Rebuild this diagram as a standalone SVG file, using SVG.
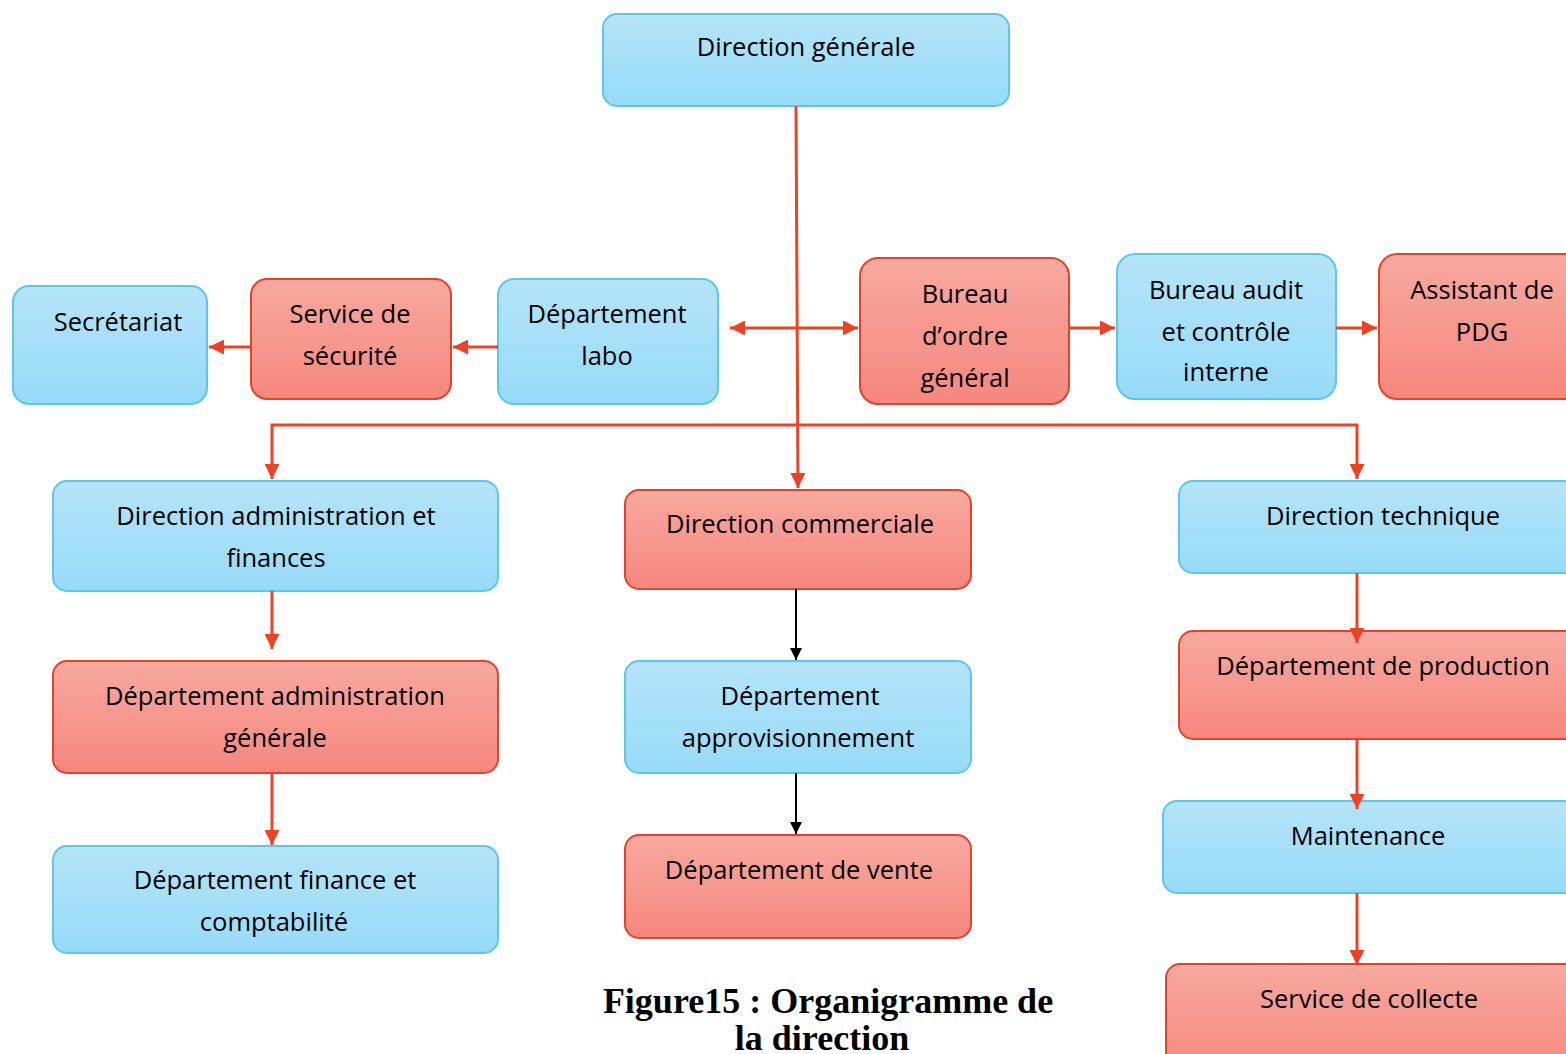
<svg xmlns="http://www.w3.org/2000/svg" width="1566" height="1054" viewBox="0 0 1566 1054">
<defs>
<linearGradient id="gb" x1="0" y1="0" x2="0" y2="1"><stop offset="0" stop-color="#b5e4f8"/><stop offset="1" stop-color="#97dbf8"/></linearGradient>
<linearGradient id="gr" x1="0" y1="0" x2="0" y2="1"><stop offset="0" stop-color="#f8a9a0"/><stop offset="1" stop-color="#f6877e"/></linearGradient>
<marker id="ar" viewBox="0 0 10 10" refX="10" refY="5" markerWidth="5" markerHeight="5" orient="auto-start-reverse" markerUnits="strokeWidth"><path d="M0,0 L10,5 L0,10 z" fill="#ee4224"/></marker>
<marker id="ab" viewBox="0 0 10 10" refX="10" refY="5" markerWidth="6" markerHeight="6" orient="auto" markerUnits="strokeWidth"><path d="M0,0 L10,5 L0,10 z" fill="#000"/></marker>
<style>
.b{fill:url(#gb);stroke:#5ec5ee;stroke-width:2}
.r{fill:url(#gr);stroke:#e8412a;stroke-width:2}
.t{font-family:"Open Sans","Noto Sans",sans-serif;font-size:25.5px;fill:#000;text-anchor:middle}
.c{stroke:#ee4224;stroke-width:3;fill:none}
.k{stroke:#000;stroke-width:2;fill:none}
.cap{font-family:"Liberation Serif",serif;font-weight:bold;font-size:36px;text-anchor:middle;fill:#000}
</style>
</defs>
<g id="n-dg"><rect class="b" x="603" y="14" width="406" height="92" rx="14"/><text class="t" x="806" y="56">Direction générale</text></g>
<g id="n-sec"><rect class="b" x="13" y="286" width="194" height="118" rx="16"/><text class="t" x="118" y="331">Secrétariat</text></g>
<g id="n-ss"><rect class="r" x="251" y="279" width="200" height="120" rx="16"/><text class="t" x="350" y="323">Service de</text><text class="t" x="350" y="365">sécurité</text></g>
<g id="n-labo"><rect class="b" x="498" y="279" width="220" height="125" rx="16"/><text class="t" x="607" y="323">Département</text><text class="t" x="607" y="365">labo</text></g>
<g id="n-bog"><rect class="r" x="860" y="258" width="209" height="146" rx="18"/><text class="t" x="965" y="303">Bureau</text><text class="t" x="965" y="345">d’ordre</text><text class="t" x="965" y="387">général</text></g>
<g id="n-baci"><rect class="b" x="1117" y="254" width="219" height="145" rx="18"/><text class="t" x="1226" y="299">Bureau audit</text><text class="t" x="1226" y="341">et contrôle</text><text class="t" x="1226" y="381">interne</text></g>
<g id="n-apdg"><rect class="r" x="1379" y="254" width="210" height="145" rx="18"/><text class="t" x="1482" y="299">Assistant de</text><text class="t" x="1482" y="341">PDG</text></g>
<g id="n-daf"><rect class="b" x="53" y="481" width="445" height="110" rx="14"/><text class="t" x="276" y="525">Direction administration et</text><text class="t" x="276" y="567">finances</text></g>
<g id="n-dc"><rect class="r" x="625" y="490" width="346" height="99" rx="14"/><text class="t" x="800" y="533">Direction commerciale</text></g>
<g id="n-dt"><rect class="b" x="1179" y="481" width="410" height="92" rx="14"/><text class="t" x="1383" y="525">Direction technique</text></g>
<g id="n-dag"><rect class="r" x="53" y="661" width="445" height="112" rx="14"/><text class="t" x="275" y="705">Département administration</text><text class="t" x="275" y="747">générale</text></g>
<g id="n-dap"><rect class="b" x="625" y="661" width="346" height="112" rx="14"/><text class="t" x="800" y="705">Département</text><text class="t" x="798" y="747">approvisionnement</text></g>
<g id="n-dfc"><rect class="b" x="53" y="846" width="445" height="107" rx="14"/><text class="t" x="275" y="889">Département finance et</text><text class="t" x="274" y="931">comptabilité</text></g>
<g id="n-dv"><rect class="r" x="625" y="835" width="346" height="103" rx="14"/><text class="t" x="799" y="879">Département de vente</text></g>
<g id="n-dp"><rect class="r" x="1179" y="631" width="410" height="108" rx="14"/><text class="t" x="1383" y="675">Département de production</text></g>
<g id="n-m"><rect class="b" x="1163" y="801" width="426" height="92" rx="14"/><text class="t" x="1368" y="845">Maintenance</text></g>
<g id="n-sc"><rect class="r" x="1166" y="964" width="423" height="110" rx="14"/><text class="t" x="1369" y="1008">Service de collecte</text></g>
<g id="caption"><text class="cap" x="828" y="1013">Figure15 : Organigramme de</text><text class="cap" x="822" y="1050">la direction</text></g>
<g id="connectors">
<path class="c" d="M796,106 L798,488" marker-end="url(#ar)"/>
<path class="c" d="M272,479 L272,425 L1357,425 L1357,479" marker-end="url(#ar)" marker-start="url(#ar)"/>
<path class="c" d="M730,328 L858,328" marker-start="url(#ar)" marker-end="url(#ar)"/>
<path class="c" d="M1069,328 L1115,328" marker-end="url(#ar)"/>
<path class="c" d="M1336,328 L1377,328" marker-end="url(#ar)"/>
<path class="c" d="M498,347 L453,347" marker-end="url(#ar)"/>
<path class="c" d="M251,347 L209,347" marker-end="url(#ar)"/>
<path class="c" d="M272,591 L272,649" marker-end="url(#ar)"/>
<path class="c" d="M272,773 L272,845" marker-end="url(#ar)"/>
<path class="k" d="M796,589 L796,660" marker-end="url(#ab)"/>
<path class="k" d="M796,773 L796,834" marker-end="url(#ab)"/>
<path class="c" d="M1357,573 L1357,643" marker-end="url(#ar)"/>
<path class="c" d="M1357,739 L1357,809" marker-end="url(#ar)"/>
<path class="c" d="M1357,893 L1357,965" marker-end="url(#ar)"/>
</g>
</svg>
